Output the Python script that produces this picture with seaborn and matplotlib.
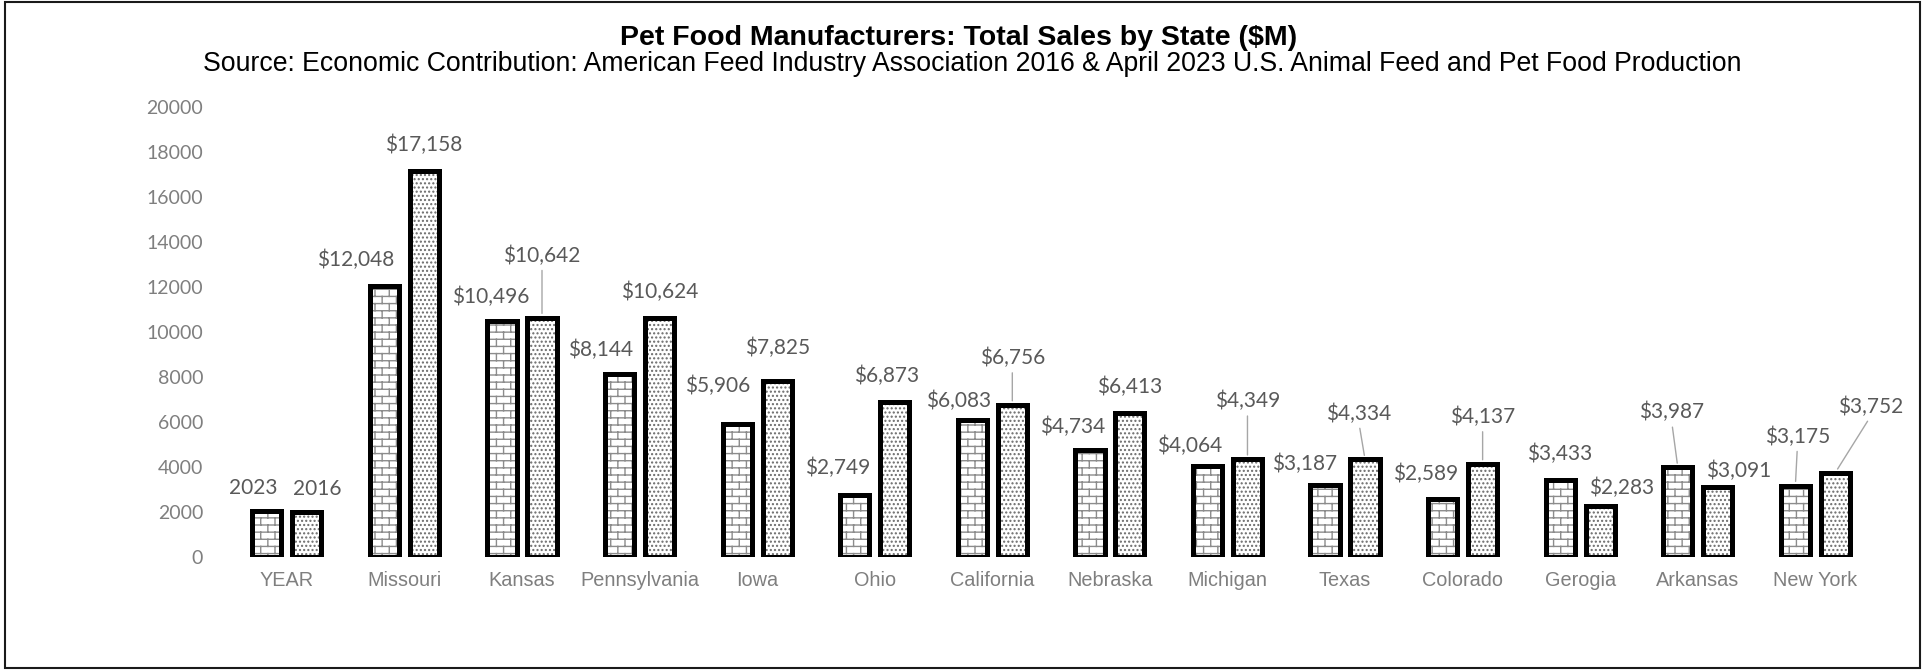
import warnings
import numpy as np
import pandas as pd
import matplotlib
matplotlib.use("Agg")
import matplotlib.pyplot as plt
import matplotlib.hatch as mhatch
import matplotlib.colors as mcolors
from matplotlib.path import Path
from matplotlib.patches import Rectangle
import seaborn as sns

warnings.filterwarnings("ignore")

# ---- data ($M) -------------------------------------------------------------
states = ["YEAR", "Missouri", "Kansas", "Pennsylvania", "Iowa", "Ohio",
          "California", "Nebraska", "Michigan", "Texas", "Colorado",
          "Gerogia", "Arkansas", "New York"]
years = ["2023", "2016"]
sales_2023 = [2023, 12048, 10496, 8144, 5906, 2749, 6083, 4734, 4064,
              3187, 2589, 3433, 3987, 3175]
sales_2016 = [2016, 17158, 10642, 10624, 7825, 6873, 6756, 6413, 4349,
              4334, 4137, 2283, 3091, 3752]
y_ticks = list(range(0, 20001, 2000))

# label placement (pixel offsets of label centre from bar top) and leader flags
offsets_2023 = [(-14, 23), (-29, 26), (-11, 24), (-19, 24), (-20, 38),
                (-17, 27), (-14, 19), (-17, 24), (-18, 20), (-20, 21),
                (-17, 25), (-1, 26), (-6, 55), (2, 49)]
offsets_2016 = [(10, 23), (-1, 26), (0, 62), (0, 26), (0, 33), (-8, 26),
                (0, 47), (0, 26), (0, 58), (-6, 46), (0, 47), (21, 18),
                (21, 17), (35, 66)]
leader_2023 = [False] * 12 + [True, True]
leader_2016 = [False, False, True, False, False, False, True, False, True,
               True, True, False, False, True]


# ---- running-bond brick hatch ("b") ---------------------------------------
class BrickHatch(mhatch.HatchPatternBase):
    def __init__(self, hatch, density):
        n = hatch.count("b")
        segs = []
        if n:
            rows, cols = 14 * n, 7 * n
            h, w = 1.0 / rows, 1.0 / cols
            for r in range(rows):
                y0 = (r + 0.5) * h
                segs.append(((0.0, y0), (1.0, y0)))
                shift = w * (0.25 + 0.5 * (r % 2))
                y1 = y0 + h
                for c in range(cols):
                    x = c * w + shift
                    if y1 <= 1.0:
                        segs.append(((x, y0), (x, y1)))
                    else:
                        segs.append(((x, y0), (x, 1.0)))
                        segs.append(((x, 0.0), (x, y1 - 1.0)))
        self.segs = segs
        self.num_vertices = 2 * len(segs)

    def set_vertices_and_codes(self, vertices, codes):
        for i, (a, b) in enumerate(self.segs):
            vertices[2 * i] = a
            vertices[2 * i + 1] = b
        codes[0::2] = Path.MOVETO
        codes[1::2] = Path.LINETO


mhatch._hatch_types.append(BrickHatch)

# ---- style -----------------------------------------------------------------
sns.set_style("white")
plt.rcParams["font.family"] = ["Liberation Sans", "DejaVu Sans"]
plt.rcParams["hatch.linewidth"] = 1.0

df = pd.DataFrame({
    "state": states * 2,
    "year": [years[0]] * len(states) + [years[1]] * len(states),
    "sales": sales_2023 + sales_2016,
})

fig = plt.figure(figsize=(19.23, 6.70), dpi=100)
ax = fig.add_axes([0.1186, 0.1687, 0.8560, 0.6716])

sns.barplot(data=df, x="state", y="sales", hue="year", hue_order=years,
            order=states, palette=["white", "white"], saturation=1,
            width=0.68, gap=0.27, edgecolor="black", linewidth=3.6,
            errorbar=None, legend=False, ax=ax)

hatches = {"2023": ("b", "#8c8c8c"), "2016": ("....", "#6a6a6a")}
for cont, yr in zip(ax.containers, years):
    hp, hc = hatches[yr]
    for bar in cont:
        bar.set_hatch(hp)
        if hasattr(bar, "set_hatchcolor"):
            bar.set_hatchcolor(hc)
        else:
            bar._hatch_color = mcolors.to_rgba(hc)

ax.set_ylim(0, 20000)
ax.set_xlim(-0.5, len(states) - 0.5)
ax.set_yticks(y_ticks)
ax.set_yticklabels([str(t) for t in y_ticks])
ax.set_xlabel("")
ax.set_ylabel("")
for s in ax.spines.values():
    s.set_visible(False)
ax.tick_params(axis="y", length=0, pad=18, labelcolor="#7f7f7f", labelsize=14)
ax.tick_params(axis="x", length=0, pad=10, labelcolor="#7f7f7f", labelsize=14.3)
for lbl in ax.get_yticklabels():
    lbl.set_fontfamily(["Lato", "DejaVu Sans"])

# ---- data labels -----------------------------------------------------------
px = 72.0 / fig.dpi
for cont, offs, leads in zip(ax.containers, [offsets_2023, offsets_2016],
                             [leader_2023, leader_2016]):
    for i, (bar, (dx, dy), lead) in enumerate(zip(cont, offs, leads)):
        val = bar.get_height()
        txt = f"{int(round(val))}" if states[i] == "YEAR" else f"${int(round(val)):,}"
        xc = bar.get_x() + bar.get_width() / 2
        kw = {}
        if lead:
            kw["arrowprops"] = dict(arrowstyle="-", color="#a6a6a6", lw=1.0,
                                    shrinkA=1, shrinkB=3, relpos=(0.5, 0.0))
        ax.annotate(txt, xy=(xc, val), xytext=(dx * px, dy * px),
                    textcoords="offset points", ha="center", va="center",
                    fontsize=15, color="#595959",
                    family=["Lato", "DejaVu Sans"], **kw)

# ---- titles and frame ------------------------------------------------------
fig.text(0.4987, 0.944, "Pet Food Manufacturers: Total Sales by State ($M)",
         ha="center", va="center", fontsize=20.5, fontweight="bold",
         color="black")
fig.text(0.5055, 0.905,
         "Source: Economic Contribution: American Feed Industry Association 2016 "
         "& April 2023 U.S. Animal Feed and Pet Food Production",
         ha="center", va="center", fontsize=19.2, color="black")
fig.add_artist(Rectangle((0.0026, 0.003), 0.9958, 0.994,
                         transform=fig.transFigure, fill=False,
                         edgecolor="#1a1a1a", linewidth=1.5))

fig.savefig("out.png", dpi=100)
